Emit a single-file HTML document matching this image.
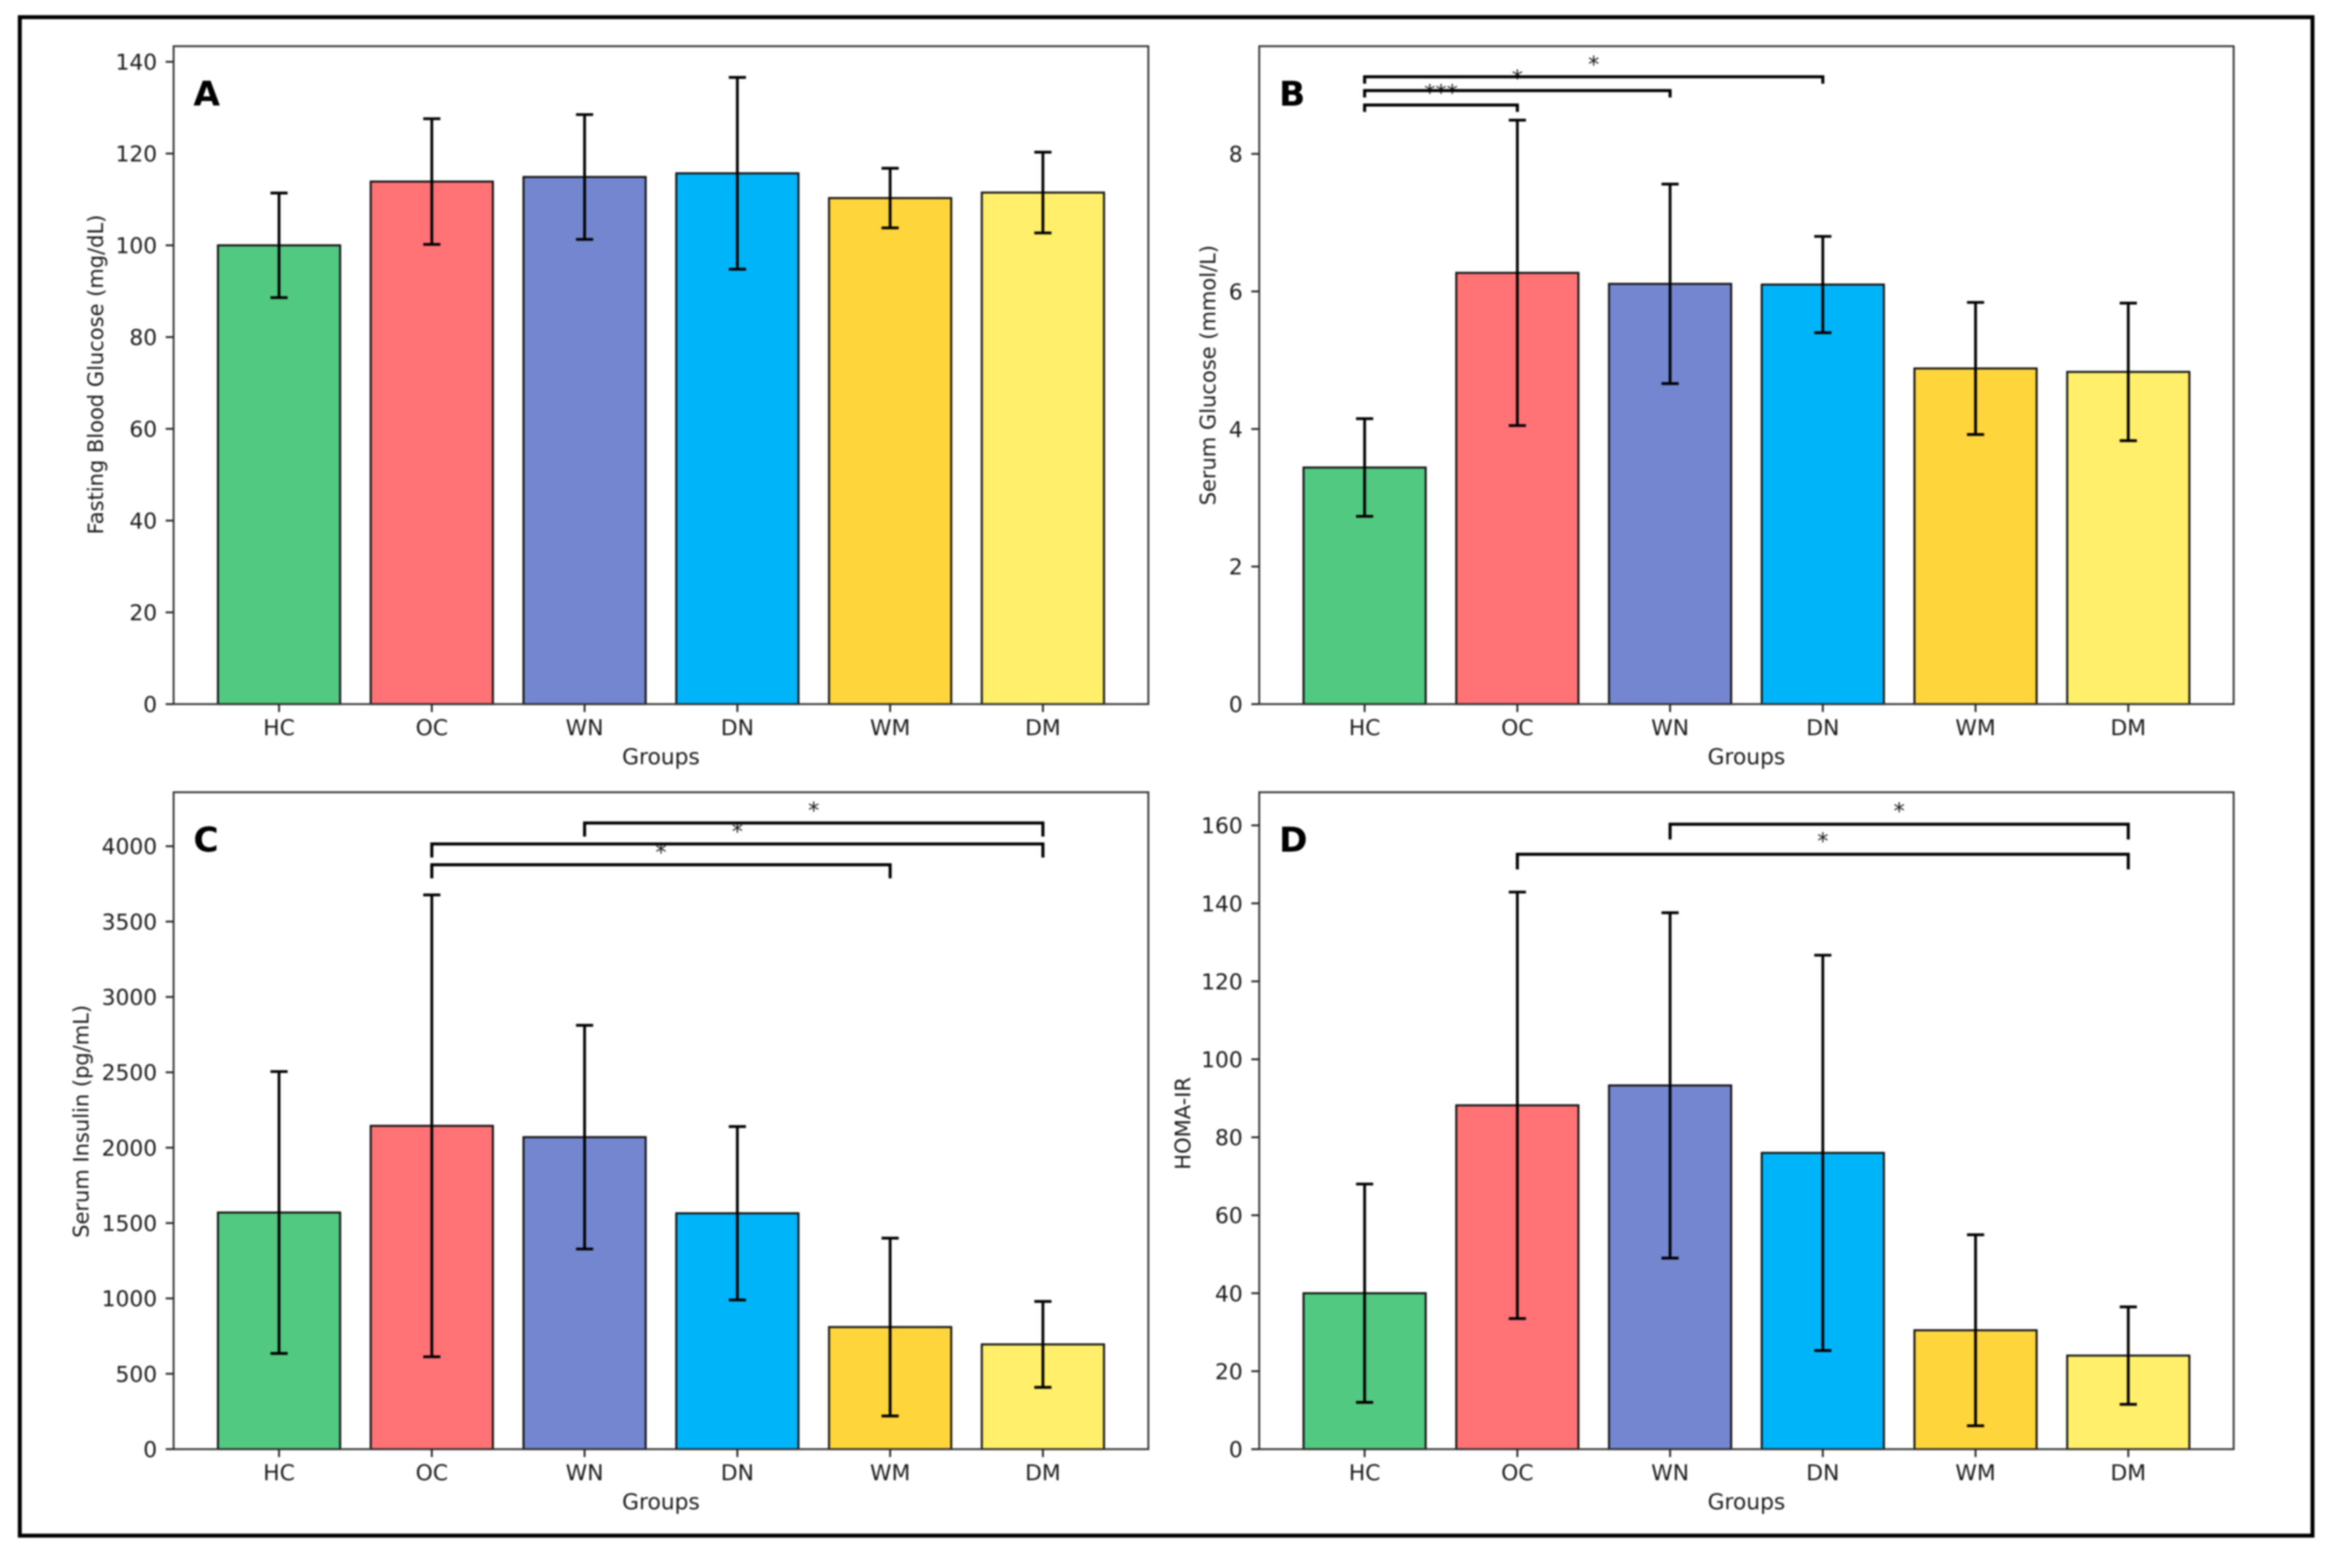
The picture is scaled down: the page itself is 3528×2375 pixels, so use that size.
<!DOCTYPE html>
<html lang="en">
<head>
<meta charset="utf-8">
<title>Glucose and insulin by group</title>
<style>
html,body{margin:0;padding:0;background:#fff;width:3528px;height:2375px;overflow:hidden}
#figure{display:block;filter:blur(1.3px)}
text{font-family:"DejaVu Sans","Liberation Sans",sans-serif;fill:#1a1a1a}
</style>
</head>
<body>
<svg id="figure" width="3528" height="2375" viewBox="0 0 3528 2375" xmlns="http://www.w3.org/2000/svg">
<rect x="0" y="0" width="3528" height="2375" fill="#fff"/>
<rect x="30" y="26" width="3473" height="2300" fill="none" stroke="#000" stroke-width="6"/>
</svg>
<script>
const categories = ['HC', 'OC', 'WN', 'DN', 'WM', 'DM'];
const barColors = ['#52c981', '#ff7276', '#7486cf', '#00b4fa', '#ffd53c', '#ffef6b'];

const glucoseMeans = [100, 113.9, 114.9, 115.7, 110.3, 111.5];
const glucoseErrors = [11.4, 13.7, 13.6, 20.9, 6.5, 8.8];
const glucoseTicks = [0, 20, 40, 60, 80, 100, 120, 140];

const serumMeans = [3.44, 6.27, 6.11, 6.1, 4.88, 4.83];
const serumErrors = [0.71, 2.22, 1.45, 0.7, 0.96, 1.0];
const serumTicks = [0, 2, 4, 6, 8];
const serumBrackets = [
  [0, 1, 8.71, '***'],
  [0, 2, 8.92, '*'],
  [0, 3, 9.12, '*']
];

const insulinMeans = [1570, 2145, 2070, 1565, 810, 695];
const insulinErrors = [935, 1532, 742, 575, 590, 285];
const insulinTicks = [0, 500, 1000, 1500, 2000, 2500, 3000, 3500, 4000];
const insulinBrackets = [
  [1, 4, 3877, '*'],
  [1, 5, 4015, '*'],
  [2, 5, 4154, '*']
];

const homaMeans = [40, 88.2, 93.3, 76, 30.5, 24];
const homaErrors = [28, 54.7, 44.3, 50.7, 24.5, 12.5];
const homaTicks = [0, 20, 40, 60, 80, 100, 120, 140, 160];
const homaBrackets = [
  [1, 5, 152.6, '*'],
  [2, 5, 160.3, '*']
];

const svg = document.getElementById('figure');
const NS = 'http://www.w3.org/2000/svg';

function mk(parent, tag, attrs, content) {
  const node = document.createElementNS(NS, tag);
  for (const k in attrs) node.setAttribute(k, attrs[k]);
  if (content !== undefined) node.textContent = content;
  parent.appendChild(node);
  return node;
}

function drawPanel(p) {
  const xUnit = (p.right - p.left) / 6.38;
  const xPos = i => p.left + (i + 0.69) * xUnit;
  const yPos = v => p.bottom - v * (p.bottom - p.top) / p.yMax;

  const group = mk(svg, 'g', {});
  
  

  p.means.forEach((m, i) => {
    const bar = mk(group, 'rect', {
      x: xPos(i - 0.4), y: yPos(m), width: xPos(0.4) - xPos(-0.4), height: yPos(0) - yPos(m),
      fill: barColors[i], stroke: '#111', 'stroke-width': 3
    });
    
    
  });

  p.means.forEach((m, i) => {
    const e = p.errors[i];
    const d = 'M' + xPos(i) + ' ' + yPos(m + e) + 'V' + yPos(m - e) +
      'M' + (xPos(i) - 13) + ' ' + yPos(m + e) + 'h26' +
      'M' + (xPos(i) - 13) + ' ' + yPos(m - e) + 'h26';
    const err = mk(group, 'path', { d: d, fill: 'none', stroke: '#000', 'stroke-width': 4.2 });
    
    
  });

  const frame = mk(group, 'rect', {
    x: p.left, y: p.top, width: p.right - p.left, height: p.bottom - p.top,
    fill: 'none', stroke: '#333', 'stroke-width': 2.8
  });
  
  

  p.ticks.forEach(t => {
    const tick = mk(group, 'line', {
      x1: p.left - 12, x2: p.left, y1: yPos(t), y2: yPos(t), stroke: '#222', 'stroke-width': 2.8
    });
    
    
    const label = mk(group, 'text', {
      x: p.left - 25, y: yPos(t) + 12, 'text-anchor': 'end', 'font-size': 33
    }, String(t));
    
    
  });

  categories.forEach((c, i) => {
    const tick = mk(group, 'line', {
      x1: xPos(i), x2: xPos(i), y1: p.bottom, y2: p.bottom + 12, stroke: '#222', 'stroke-width': 2.8
    });
    
    
    const label = mk(group, 'text', {
      x: xPos(i), y: p.bottom + 47, 'text-anchor': 'middle', 'font-size': 33
    }, c);
    
    
  });

  const xTitle = mk(group, 'text', {
    x: (p.left + p.right) / 2, y: p.bottom + 91, 'text-anchor': 'middle', 'font-size': 33
  }, 'Groups');
  
  

  const yc = (p.top + p.bottom) / 2 + p.yLabelShift;
  const yTitle = mk(group, 'text', {
    x: p.yLabelX, y: yc, 'text-anchor': 'middle', 'font-size': 31.8,
    transform: 'rotate(-90 ' + p.yLabelX + ' ' + yc + ')'
  }, p.yTitle);
  
  

  const letter = mk(group, 'text', {
    x: p.left + 30, y: p.top + 90, 'font-size': 52, 'font-weight': 'bold'
  }, p.letter);
  
  
  letter.style.fill = '#000';

  (p.brackets || []).forEach(b => {
    const drop = yPos(b[2] - p.bracketDrop);
    const d = 'M' + xPos(b[0]) + ' ' + drop + 'V' + yPos(b[2]) + 'H' + xPos(b[1]) + 'V' + drop;
    const bracket = mk(group, 'path', { d: d, fill: 'none', stroke: '#000', 'stroke-width': 4.6 });
    
    
    const star = mk(group, 'text', {
      x: (xPos(b[0]) + xPos(b[1])) / 2, y: yPos(b[2] + p.starOffset),
      'text-anchor': 'middle', 'font-size': 34
    }, b[3]);
    
    
  });
}

drawPanel({ letter: 'A', left: 263, right: 1739.5, top: 70, bottom: 1066.5, yMax: 143.4,
  means: glucoseMeans, errors: glucoseErrors, ticks: glucoseTicks,
  yTitle: 'Fasting Blood Glucose (mg/dL)', yLabelX: 156, yLabelShift: -1 });
drawPanel({ letter: 'B', left: 1907.5, right: 3383.6, top: 70, bottom: 1066.5, yMax: 9.565,
  means: serumMeans, errors: serumErrors, ticks: serumTicks,
  yTitle: 'Serum Glucose (mmol/L)', yLabelX: 1841, yLabelShift: 0,
  brackets: serumBrackets, bracketDrop: 0.1, starOffset: 0.07 });
drawPanel({ letter: 'C', left: 263, right: 1739.5, top: 1200, bottom: 2195, yMax: 4358,
  means: insulinMeans, errors: insulinErrors, ticks: insulinTicks,
  yTitle: 'Serum Insulin (pg/mL)', yLabelX: 134, yLabelShift: 1,
  brackets: insulinBrackets, bracketDrop: 90, starOffset: 33 });
drawPanel({ letter: 'D', left: 1907.5, right: 3383.6, top: 1200, bottom: 2195, yMax: 168.5,
  means: homaMeans, errors: homaErrors, ticks: homaTicks,
  yTitle: 'HOMA-IR', yLabelX: 1803, yLabelShift: 4,
  brackets: homaBrackets, bracketDrop: 3.9, starOffset: 1.4 });
</script>
</body>
</html>
